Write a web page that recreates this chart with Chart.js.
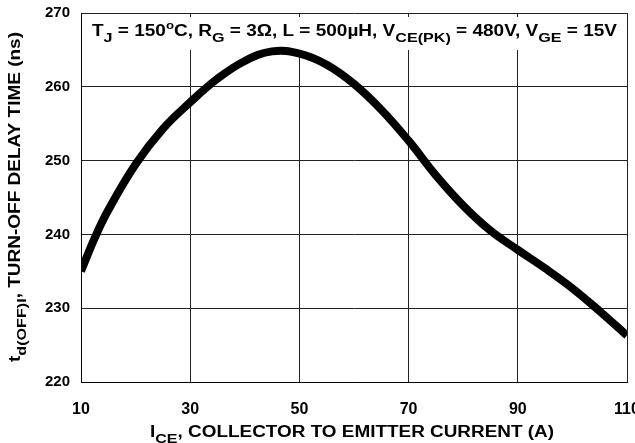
<!DOCTYPE html>
<html>
<head>
<meta charset="utf-8">
<script src="https://cdn.jsdelivr.net/npm/chart.js@4"></script>
<style>
html, body { margin: 0; padding: 0; background: #fff; }
</style>
</head>
<body>
<canvas id="chart" width="635" height="443"></canvas>
<script>
// Curva td(OFF)I vs ICE
const corriente = [10, 12.5, 15, 20, 25, 30, 35, 40, 45, 50, 55, 60, 65, 70, 75, 80, 85, 90, 95, 100, 105, 110];
const retardo = [235, 239.5, 243.3, 249.5, 254.3, 257.9, 261.1, 263.5, 264.8, 264.5, 263.0, 260.4, 256.9, 252.7, 248, 243.9, 240.5, 237.9, 235.4, 232.7, 229.6, 226.3];
const xTicks = [10, 30, 50, 70, 90, 110];
const yTicks = [220, 230, 240, 250, 260, 270];

const FONT = '"Liberation Sans", Arial, Helvetica, sans-serif';

// texto con subíndices
const anotacion = [
    {t: 'T'}, {t: 'J', sub: true}, {t: ' = 150'}, {t: 'o', sup: true}, {t: 'C, R'}, {t: 'G', sub: true},
    {t: ' = 3Ω, L = 500µH, V'}, {t: 'CE(PK)', sub: true}, {t: ' = 480V, V'}, {t: 'GE', sub: true}, {t: ' = 15V'}
];
const tituloX = [{t: 'I'}, {t: 'CE', sub: true}, {t: ', COLLECTOR TO EMITTER CURRENT (A)'}];
const tituloY = [{t: 't'}, {t: 'd(OFF)I', sub: true}, {t: ', TURN-OFF DELAY TIME (ns)'}];

function fuente(p, size) {
    const s = p.sub ? size * 0.85 : p.sup ? size * 0.7 : size;
    return 'bold ' + s + 'px ' + FONT;
}

function textoRico(ctx, parts, x, y, width, size) {
    ctx.save();
    let total = 0;
    parts.forEach(p => { ctx.font = fuente(p, size); total += ctx.measureText(p.t).width; });
    ctx.translate(x, y);
    ctx.scale(width / total, 1);
    ctx.fillStyle = '#000';
    ctx.textBaseline = 'alphabetic';
    ctx.textAlign = 'left';
    let cx = 0;
    parts.forEach(p => {
        ctx.font = fuente(p, size);
        const dy = p.sub ? size * 0.35 : p.sup ? -size * 0.45 : 0;
        ctx.fillText(p.t, cx, dy);
        cx += ctx.measureText(p.t).width;
    });
    ctx.restore();
}

const textos = {
    id: 'textos',
    beforeDatasetsDraw(chart) {
        const ctx = chart.ctx;
        const a = chart.chartArea;
        // caja blanca de la anotación
        ctx.save();
        ctx.fillStyle = '#fff';
        ctx.fillRect(a.left + 3, a.top + 4, a.right - a.left - 6, 33);
        ctx.restore();
        textoRico(ctx, anotacion, 92, 36, 525, 16);
        textoRico(ctx, tituloX, 150, 437, 404, 16);
        ctx.save();
        ctx.translate(20, 362);
        ctx.rotate(-Math.PI / 2);
        textoRico(ctx, tituloY, 0, 0, 330, 16);
        ctx.restore();
    }
};

new Chart(document.getElementById('chart'), {
    type: 'line',
    data: {
        datasets: [{
            data: corriente.map((x, i) => ({x: x, y: retardo[i]})),
            borderColor: '#000',
            borderWidth: 8,
            pointRadius: 0,
            tension: 0.4,
            fill: false
        }]
    },
    options: {
        responsive: false,
        animation: false,
        layout: { padding: { top: 13, right: 8, left: 0, bottom: 0 } },
        plugins: { legend: { display: false }, tooltip: { enabled: false } },
        scales: {
            x: {
                type: 'linear',
                min: 10,
                max: 110,
                afterBuildTicks: s => { s.ticks = xTicks.map(v => ({value: v})); },
                afterFit: s => { s.height = 61; s.paddingRight = 0; s.paddingLeft = 0; },
                grid: { color: '#222', lineWidth: 1, drawTicks: false },
                border: { color: '#000', width: 1 },
                ticks: { color: '#000', padding: 18, maxRotation: 0, font: { family: FONT, size: 16, weight: 'bold' } }
            },
            y: {
                min: 220,
                max: 270,
                afterBuildTicks: s => { s.ticks = yTicks.map(v => ({value: v})); },
                afterFit: s => { s.width = 81; s.paddingTop = 0; s.paddingBottom = 0; },
                grid: { color: '#222', lineWidth: 1, drawTicks: false },
                border: { color: '#000', width: 1 },
                ticks: { color: '#000', padding: 11, font: { family: FONT, size: 15, weight: 'bold' } }
            }
        }
    },
    plugins: [textos]
});
</script>
</body>
</html>
